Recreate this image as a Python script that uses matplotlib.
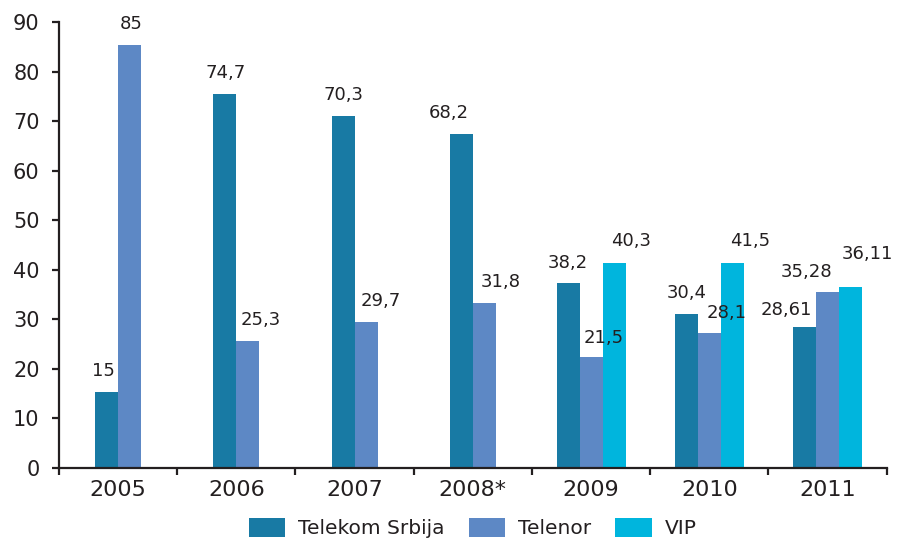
import matplotlib.pyplot as plt
import numpy as np

years = ["2005", "2006", "2007", "2008*", "2009", "2010", "2011"]
series = ["Telekom Srbija", "Telenor", "VIP"]

# bar heights as drawn in the picture (labels below are the printed values)
telekom = [15.3, 75.5, 71.1, 67.4, 37.3, 31.1, 28.4]
telenor = [85.4, 25.6, 29.4, 33.3, 22.4, 27.2, 35.5]
vip = [None, None, None, None, 41.3, 41.3, 36.5]

telekom_labels = ["15", "74,7", "70,3", "68,2", "38,2", "30,4", "28,61"]
telenor_labels = ["85", "25,3", "29,7", "31,8", "21,5", "28,1", "35,28"]
vip_labels = ["", "", "", "", "40,3", "41,5", "36,11"]

colors = ["#187aa4", "#5d88c5", "#00b5dd"]
ink = "#231f20"

# label nudges in pixels (dx, dy), hand placed like the original
nudges = [
    [(-3, 12), (1, 12), (0, 12), (-13, 12), (0, 11), (0, 12), (-18, 8)],
    [(2, 12), (13, 12), (15, 12), (16, 12), (13, 10), (17, 11), (-21, 11)],
    [(0, 0), (0, 0), (0, 0), (0, 0), (17, 13), (18, 13), (17, 24)],
]

plt.rcParams['font.family'] = ['DejaVu Sans']
fig = plt.figure(figsize=(8.98, 5.43), dpi=100)
ax = fig.add_axes([59 / 898, 75.3 / 543, 827.7 / 898, 445.4 / 543])

data = [telekom, telenor, vip]
labels = [telekom_labels, telenor_labels, vip_labels]
w = 0.195
for c in range(len(years)):
    present = [s for s in range(3) if data[s][c] is not None]
    n = len(present)
    for k, s in enumerate(present):
        x = c + (k - (n - 1) / 2) * w
        ax.bar(x, data[s][c], width=w, color=colors[s], linewidth=0,
               label=series[s] if c == 4 else None)
        dx, dy = nudges[s][c]
        ax.annotate(labels[s][c], (x, data[s][c]), xytext=(dx, dy),
                    textcoords='offset pixels', ha='center', va='bottom',
                    fontsize=13, color=ink)

ax.set_xlim(-0.5, 6.5)
ax.set_ylim(0, 90)
ax.set_yticks(np.arange(0, 91, 10))
ax.set_xticks(np.arange(-0.5, 7, 1))
ax.set_xticklabels([])
ax.set_xticks(np.arange(7), minor=True)
ax.set_xticklabels(years, minor=True)

for side in ["top", "right"]:
    ax.spines[side].set_visible(False)
for side in ["left", "bottom"]:
    ax.spines[side].set_linewidth(1.6)
    ax.spines[side].set_color(ink)

ax.tick_params(axis='y', length=5, width=1.6, color=ink, labelsize=15,
               labelcolor=ink, pad=9)
ax.tick_params(axis='x', which='major', length=5, width=1.6, color=ink)
ax.tick_params(axis='x', which='minor', length=0, labelsize=16,
               labelcolor=ink, pad=9)

ax.legend(loc='center', bbox_to_anchor=(0.5, -0.135), ncol=3, frameon=False,
          fontsize=14.5, handlelength=1.8, handleheight=1.1,
          handletextpad=0.65, columnspacing=1.2, labelcolor=ink)

fig.savefig("out.png", dpi=100)
